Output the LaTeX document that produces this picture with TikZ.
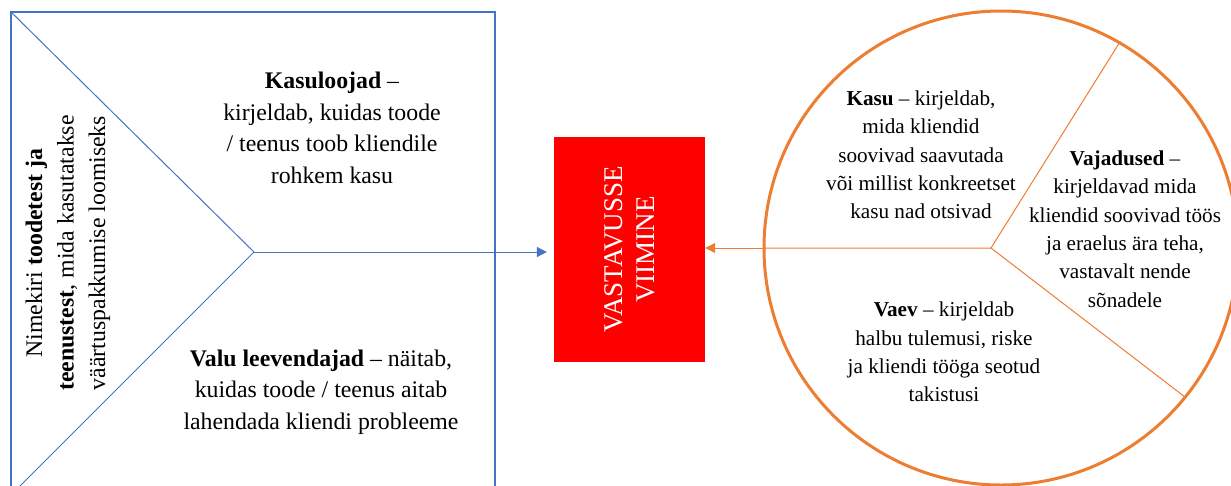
\documentclass[tikz,border=0pt]{standalone}
\usepackage{fontspec}
\setmainfont{Liberation Serif}
\usetikzlibrary{arrows.meta}
\definecolor{ofblue}{HTML}{4472C4}
\definecolor{oforange}{HTML}{ED7D31}

\begin{document}
\begin{tikzpicture}[x=1pt, y=-1pt,
    txt/.style={align=center, font=\fontsize{23.8}{31.5}\selectfont},
    pietxt/.style={align=center, font=\fontsize{21.2}{28.3}\selectfont},
    tipped/.style={-{Triangle[length=10pt, width=10pt]}}]
  \useasboundingbox (0,0) rectangle (1231,485);
  \clip (0,0) rectangle (1231,485);

  \draw [ofblue, line width=2.2pt] (11,12) rectangle (495,520);
  \coordinate (tip) at (254,252);
  \draw [ofblue, line width=1pt] (11,12) -- (tip) -- (11,495);

  \node (gain) [txt] at (332,128) {\textbf{Kasuloojad} --\\kirjeldab, kuidas toode\\/ teenus toob kliendile\\rohkem kasu};
  \node (pain) [txt] at (321,392) {\textbf{Valu leevendajad} -- näitab,\\kuidas toode / teenus aitab\\lahendada kliendi probleeme};
  \node (prod) [txt, rotate=90] at (68,253) {Nimekiri \textbf{toodetest ja}\\\textbf{teenustest}, mida kasutatakse\\väärtuspakkumise loomiseks};

  \node (match) [fill=red, minimum width=151pt, minimum height=225pt, inner sep=0pt] at (629.5,249.5) {};
  \node (matchtxt) [txt, rotate=90, text=white, font=\fontsize{27}{32}\selectfont] at (match.center) {VASTAVUSSE\\VIIMINE};

  \node (circ) [circle, draw=oforange, line width=3pt, minimum size=474pt, inner sep=0pt] at (1001,248) {};
  \coordinate (pie) at (991,248);
  \draw [oforange, line width=1pt] (circ.west) -- (pie) -- (circ.60);
  \draw [oforange, line width=1pt] (pie) -- (circ.-39);

  \node (gains) [pietxt] at (921,155) {\textbf{Kasu} -- kirjeldab,\\mida kliendid\\soovivad saavutada\\või millist konkreetset\\kasu nad otsivad};
  \node (jobs) [pietxt] at (1125,229) {\textbf{Vajadused} --\\kirjeldavad mida\\kliendid soovivad töös\\ja eraelus ära teha,\\vastavalt nende\\sõnadele};
  \node (pains) [pietxt] at (944,352) {\textbf{Vaev} -- kirjeldab\\halbu tulemusi, riske\\ja kliendi tööga seotud\\takistusi};

  \draw [ofblue, line width=1pt, tipped, shorten >=7pt] (tip) -- (tip -| match.west);
  \draw [oforange, line width=1pt, tipped] (circ.west) -- (circ.west -| match.east);
\end{tikzpicture}
\end{document}
